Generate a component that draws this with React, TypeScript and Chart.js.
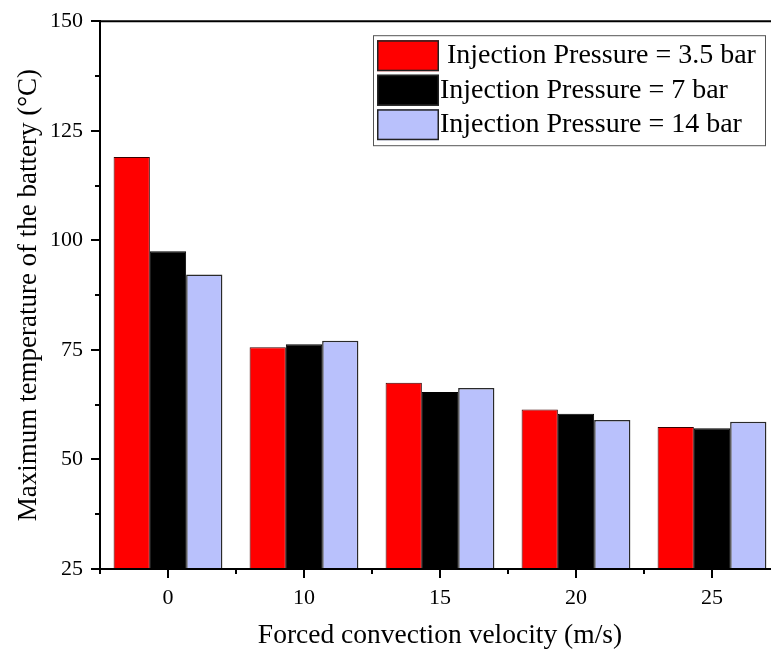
import React, { useEffect, useRef } from "react";
import { Chart, registerables } from "chart.js";

Chart.register(...registerables);

const categories = ["0", "10", "15", "20", "25"];
const pressure35 = [119.0, 75.6, 67.5, 61.4, 57.4];
const pressure7 = [97.5, 76.3, 65.4, 60.4, 57.1];
const pressure14 = [92.2, 77.1, 66.3, 59.0, 58.6];
const seriesLabels = [" Injection Pressure = 3.5 bar", "Injection Pressure = 7 bar", "Injection Pressure = 14 bar"];
const yTickMin = 25;
const yTickMax = 150;
const yTickStep = 25;

const FONT = '"Liberation Serif", "Times New Roman", serif';

const framePlugin = {
  id: "frameAndLegend",
  afterDraw(chart: any) {
    const { ctx, chartArea } = chart;
    const { left, right, top, bottom } = chartArea;
    const xs = chart.scales.x;
    const ys = chart.scales.y;
    ctx.save();
    ctx.strokeStyle = "#000";
    ctx.lineWidth = 2;
    ctx.beginPath();
    ctx.moveTo(left - 1, top);
    ctx.lineTo(right, top);
    ctx.lineTo(right, bottom);
    // minor y ticks at midpoints of major ticks
    const yt = ys.ticks;
    for (let i = 0; i < yt.length - 1; i++) {
      const mid = (yt[i].value + yt[i + 1].value) / 2;
      const py = Math.round(ys.getPixelForValue(mid));
      ctx.moveTo(left, py);
      ctx.lineTo(left - 5, py);
    }
    // minor x ticks at category boundaries
    for (let i = 0; i <= chart.data.labels.length; i++) {
      const px = Math.round(xs.getPixelForValue(i - 0.5));
      ctx.moveTo(px, bottom);
      ctx.lineTo(px, bottom + 5);
    }
    ctx.stroke();

    // legend box
    const bw = 392;
    const bh = 110;
    const bx = right - 15 - bw;
    const by = top + 14;
    ctx.fillStyle = "#fff";
    ctx.fillRect(bx, by, bw, bh);
    ctx.strokeStyle = "#555";
    ctx.lineWidth = 1;
    ctx.strokeRect(bx + 0.5, by + 0.5, bw, bh);
    ctx.font = "28px " + FONT;
    ctx.textBaseline = "middle";
    ctx.textAlign = "left";
    chart.data.datasets.forEach((ds: any, i: number) => {
      const sx = bx + 4;
      const sy = by + 5 + i * 34.5;
      const sw = 62;
      const sh = 31;
      ctx.fillStyle = ds.backgroundColor;
      ctx.fillRect(sx, sy, sw, sh);
      ctx.strokeStyle = "#222";
      ctx.lineWidth = 1.5;
      ctx.strokeRect(sx + 0.75, sy + 0.75, sw - 1.5, sh - 1.5);
      ctx.fillStyle = "#000";
      ctx.fillText(ds.label, sx + sw + 1, sy + sh / 2);
    });
    ctx.restore();
  },
};

export default function App() {
  const ref = useRef<HTMLCanvasElement | null>(null);
  useEffect(() => {
    if (!ref.current) return;
    const chart = new Chart(ref.current, {
      type: "bar",
      data: {
        labels: categories,
        datasets: [
          { label: seriesLabels[0], data: pressure35, backgroundColor: "#FF0000", borderColor: "#3a0000", borderWidth: 1, base: yTickMin },
          { label: seriesLabels[1], data: pressure7, backgroundColor: "#000000", borderColor: "#000000", borderWidth: 1, base: yTickMin },
          { label: seriesLabels[2], data: pressure14, backgroundColor: "#B9C1FC", borderColor: "#2a2a2a", borderWidth: 1.5, base: yTickMin },
        ],
      },
      options: {
        responsive: false,
        animation: false,
        layout: { padding: { left: 0, top: 20, right: 20, bottom: 0 } },
        datasets: { bar: { categoryPercentage: 0.8, barPercentage: 1.0 } },
        plugins: { legend: { display: false }, tooltip: { enabled: false } },
        scales: {
          x: {
            type: "category",
            offset: true,
            grid: { offset: false, drawOnChartArea: false, drawTicks: true, tickLength: 9, color: "#000", lineWidth: 2 },
            border: { display: true, color: "#000", width: 2 },
            ticks: { color: "#000", padding: 7, font: { family: FONT, size: 22 }, maxRotation: 0 },
            title: { display: true, text: "Forced convection velocity (m/s)", color: "#000", font: { family: FONT, size: 27.5 }, padding: { top: 0, bottom: 4.5 } },
            afterFit: (s: any) => { s.height = 88; },
          },
          y: {
            min: yTickMin,
            max: yTickMax,
            grid: { drawOnChartArea: false, drawTicks: true, tickLength: 9, color: "#000", lineWidth: 2 },
            border: { display: true, color: "#000", width: 2 },
            ticks: { stepSize: yTickStep, color: "#000", padding: 8, font: { family: FONT, size: 22 } },
            title: { display: true, text: "Maximum temperature of the battery (°C)", color: "#000", font: { family: FONT, size: 27 }, padding: { top: 13, bottom: 0 } },
            afterFit: (s: any) => { s.width = 100; },
          },
        },
      },
      plugins: [framePlugin],
    } as any);
    return () => chart.destroy();
  }, []);
  return (
    <div style={{ position: "absolute", left: 0, top: 0, width: 771, height: 657, overflow: "hidden", background: "#fff" }}>
      <canvas ref={ref} width={800} height={657} style={{ display: "block" }} />
    </div>
  );
}
